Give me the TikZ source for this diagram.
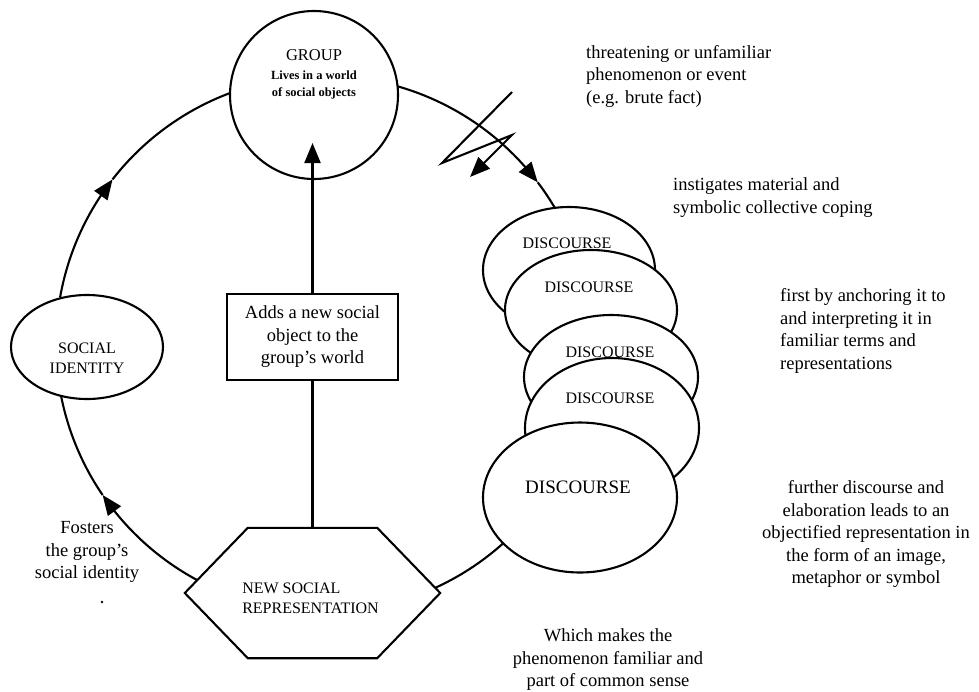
\documentclass[tikz,border=0pt]{standalone}
\usepackage{fontspec}
\setmainfont{Liberation Serif}
\usetikzlibrary{shapes.geometric,arrows.meta}
\pgfdeclarelayer{arcs}
\pgfdeclarelayer{mid}
\pgfsetlayers{arcs,mid,main}
\begin{document}
\begin{tikzpicture}[x=1pt,y=-1pt,
  lw/.style={line width=2.1pt},
  tip/.style={lw, -{Triangle[length=20pt,width=16pt]}},
  shp/.style={lw, draw, fill=white, inner sep=0pt},
  body/.style={font=\fontsize{18.5}{22.5}\selectfont, inner sep=0pt},
  caps/.style={font=\fontsize{16}{20.5}\selectfont, inner sep=0pt, align=center},
]
\useasboundingbox (0,0) rectangle (979,691);
\def\cx{324}\def\cy{344}\def\R{268}

% group circle
\node[shp, ellipse, minimum width=168pt, minimum height=168pt] (group) at (314,95) {};
\node[font=\fontsize{16.5}{20}\selectfont, inner sep=0pt] (groupt) at (314,55) {GROUP};
\node[font=\bfseries\fontsize{12.5}{17}\selectfont, align=center, inner sep=0pt] (groups) at (314,85) {Lives in a world\\of social objects};

% social identity
\node[shp, ellipse, minimum width=152pt, minimum height=104pt] (social) at (87,347) {};
\node[caps] (socialt) at (87,358) {SOCIAL\\IDENTITY};

% hexagon
\node[minimum width=255pt, minimum height=130pt, inner sep=0pt] (hex) at (312.5,593) {};
\begin{pgfonlayer}{mid}
\draw[lw, fill=white] ([xshift=63pt]hex.north west) -- ([xshift=-63pt]hex.north east) -- (hex.east)
  -- ([xshift=-63pt]hex.south east) -- ([xshift=63pt]hex.south west) -- (hex.west) -- cycle;
\end{pgfonlayer}
\node[caps, align=left] (hext) at (310.5,598.5) {NEW SOCIAL\\REPRESENTATION};

% box and vertical arrow
\node[shp, body, align=center, minimum width=171pt, minimum height=86pt] (box) at (312.5,337) {Adds a new social\\object to the\\group’s world};
\coordinate (gtip) at (312.5,143);
\draw[lw] (hex.north) -- (box.south);
\draw[tip] (box.north) -- (gtip);

% discourse ellipses
\node[shp, ellipse, minimum width=172pt, minimum height=126pt] (d1) at (569,270) {};
\node[shp, ellipse, minimum width=172pt, minimum height=120pt] (d2) at (591,310) {};
\node[shp, ellipse, minimum width=174pt, minimum height=124pt] (d3) at (611,377) {};
\node[shp, ellipse, minimum width=174pt, minimum height=140pt] (d4) at (612,428) {};
\node[shp, ellipse, minimum width=194pt, minimum height=150pt] (d5) at (580,497.5) {};
\node[caps] (d1t) at (567,243) {DISCOURSE};
\node[caps] (d2t) at (589,287) {DISCOURSE};
\node[caps] (d3t) at (610,352) {DISCOURSE};
\node[caps] (d4t) at (610,398) {DISCOURSE};
\node[font=\fontsize{19}{22}\selectfont, inner sep=0pt] (d5t) at (578,487) {DISCOURSE};

% lightning bolt
\coordinate (b1) at (512,92);
\coordinate (b2) at (442,163);
\coordinate (b3) at (512,135);
\coordinate (b4) at (470,177);
\draw[tip] (b1) -- (b2) -- (b3) -- (b4);

% cycle arcs
\begin{pgfonlayer}{arcs}
\coordinate (a1) at ({\cx+\R*cos(-37.1)},{\cy+\R*sin(-37.1)});
\coordinate (a3) at ({\cx+\R*cos(145.7)},{\cy+\R*sin(145.7)});
\coordinate (a4) at ({\cx+\R*cos(217.9)},{\cy+\R*sin(217.9)});
\draw[tip] plot[domain=-76:-41.4, samples=40] ({\cx+\R*cos(\x)},{\cy+\R*sin(\x)}) -- (a1);
\draw[lw] plot[domain=-37.1:-28, samples=20] ({\cx+\R*cos(\x)},{\cy+\R*sin(\x)});
\draw[lw] plot[domain=45:68, samples=30] ({\cx+\R*cos(\x)},{\cy+\R*sin(\x)});
\draw[tip] plot[domain=116:141.4, samples=40] ({\cx+\R*cos(\x)},{\cy+\R*sin(\x)}) -- (a3);
\draw[lw] plot[domain=145.7:170, samples=30] ({\cx+\R*cos(\x)},{\cy+\R*sin(\x)});
\draw[tip] plot[domain=190:213.6, samples=40] ({\cx+\R*cos(\x)},{\cy+\R*sin(\x)}) -- (a4);
\draw[lw] plot[domain=217.9:252, samples=40] ({\cx+\R*cos(\x)},{\cy+\R*sin(\x)});
\end{pgfonlayer}

% texts
\node[body, align=left, anchor=west] (t1) at (586,76) {threatening or unfamiliar\\phenomenon or event\\(e.g. brute fact)};
\node[body, align=left, anchor=west] (t2) at (673,197.5) {instigates material and\\symbolic collective coping};
\node[body, align=left, anchor=west] (t3) at (780,331) {first by anchoring it to\\and interpreting it in\\familiar terms and\\representations};
\node[body, align=center] (t4) at (866,534) {further discourse and\\elaboration leads to an\\objectified representation in\\the form of an image,\\metaphor or symbol};
\node[body, align=center] (t5) at (608,660) {Which makes the\\phenomenon familiar and\\part of common sense};
\node[body, align=center] (t6) at (87,552) {Fosters\\the group’s\\social identity};
\fill (102,602) circle (1.3pt);
\end{tikzpicture}
\end{document}
